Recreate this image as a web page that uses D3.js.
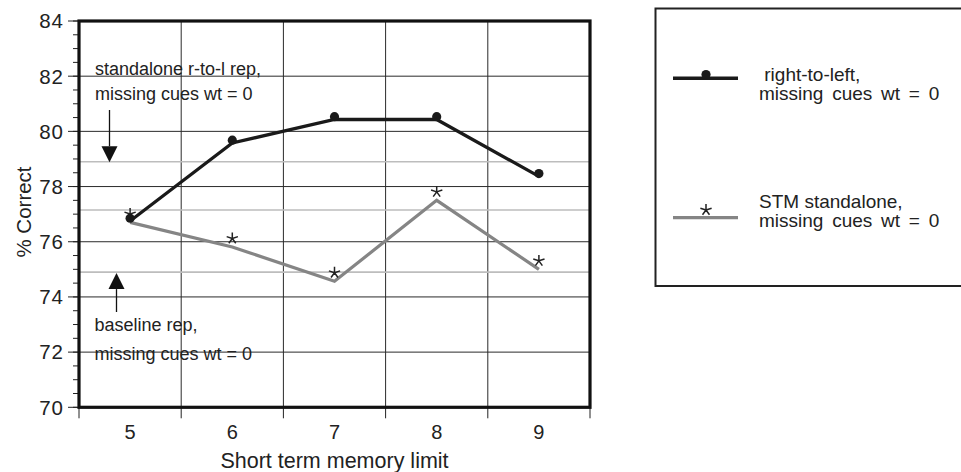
<!DOCTYPE html>
<html>
<head>
<meta charset="utf-8">
<script src="https://cdn.jsdelivr.net/npm/d3@7"></script>
<style>
  body { margin: 0; background: #fff; }
  svg { display: block; font-family: "Liberation Sans", Arial, Helvetica, sans-serif; }
  text { fill: #222; }
</style>
</head>
<body>
<div id="chart"></div>
<script>
// data
const memoryLimits = [5, 6, 7, 8, 9];
const rightToLeft = [76.75, 79.58, 80.43, 80.43, 78.37];
const stmStandalone = [76.7, 75.81, 74.57, 77.5, 75.0];
const referenceLines = [78.9, 77.15, 74.9];
const yTicks = [70, 72, 74, 76, 78, 80, 82, 84];
const topNote = ["standalone r-to-l rep,", "missing cues wt = 0"];
const bottomNote = ["baseline rep,", "missing cues wt = 0"];
const legendLabels = [
  [" right-to-left,", "missing cues wt = 0"],
  ["STM standalone,", "missing cues wt = 0"]
];

const width = 961, height = 472;
const box = { left: 79, right: 590, top: 21, bottom: 407.3 };

const svg = d3.select("#chart").append("svg")
  .attr("width", width)
  .attr("height", height);

const x = d3.scaleBand().domain(memoryLimits).range([box.left, box.right]).padding(0);
const y = d3.scaleLinear().domain([70, 84]).range([box.bottom, box.top]);
const cx = (d) => x(d) + x.bandwidth() / 2;

// five-armed asterisk like the text glyph
const asterisk5 = {
  draw(context, size) {
    const r = Math.sqrt(size) / 2;
    for (let k = 0; k < 5; k++) {
      const a = (k * 72 * Math.PI) / 180;
      context.moveTo(0, 0);
      context.lineTo(r * Math.sin(a), -r * Math.cos(a));
    }
  }
};
const starPath = d3.symbol(asterisk5, 140)();

// gridlines
const grid = svg.append("g");
grid.selectAll("line.h")
  .data(yTicks.filter((t) => t > 70 && t < 84))
  .join("line")
  .attr("x1", box.left).attr("x2", box.right)
  .attr("y1", (d) => y(d)).attr("y2", (d) => y(d))
  .style("stroke", "#2a2a2a").style("stroke-width", 1);

grid.selectAll("line.v")
  .data(memoryLimits.slice(1))
  .join("line")
  .attr("x1", (d) => x(d)).attr("x2", (d) => x(d))
  .attr("y1", box.top).attr("y2", box.bottom)
  .style("stroke", "#2a2a2a").style("stroke-width", 1);

// reference lines (light grey)
svg.append("g").selectAll("line")
  .data(referenceLines)
  .join("line")
  .attr("x1", box.left).attr("x2", box.right)
  .attr("y1", (d) => y(d)).attr("y2", (d) => y(d))
  .style("stroke", "#bdbdbd").style("stroke-width", 1.6);

// y axis: major + minor ticks
const yAxis = svg.append("g").attr("transform", `translate(${box.left},0)`);
yAxis.selectAll("line.minor")
  .data(d3.range(70, 84.01, 0.5))
  .join("line")
  .attr("x1", -6).attr("x2", 0)
  .attr("y1", (d) => y(d)).attr("y2", (d) => y(d))
  .style("stroke", "#222").style("stroke-width", 1);
yAxis.selectAll("line.major")
  .data(yTicks)
  .join("line")
  .attr("x1", -11).attr("x2", 0)
  .attr("y1", (d) => y(d)).attr("y2", (d) => y(d))
  .style("stroke", "#222").style("stroke-width", 1);
yAxis.selectAll("text")
  .data(yTicks)
  .join("text")
  .attr("x", -15)
  .attr("y", (d) => y(d))
  .attr("dy", "0.36em")
  .attr("text-anchor", "end")
  .style("font-size", "20.5px")
  .style("letter-spacing", "1px")
  .text((d) => d);

// x axis: ticks on band edges, labels centred
const xAxis = svg.append("g").attr("transform", `translate(0,${box.bottom})`);
xAxis.selectAll("line")
  .data(memoryLimits.map((d) => x(d)).concat([box.right]))
  .join("line")
  .attr("x1", (d) => d).attr("x2", (d) => d)
  .attr("y1", 0).attr("y2", 11)
  .style("stroke", "#222").style("stroke-width", 1);
xAxis.selectAll("text")
  .data(memoryLimits)
  .join("text")
  .attr("x", cx)
  .attr("y", 32)
  .attr("text-anchor", "middle")
  .style("font-size", "20px")
  .text((d) => d);

// axis titles
svg.append("text")
  .attr("x", (box.left + box.right) / 2)
  .attr("y", 467.5)
  .attr("text-anchor", "middle")
  .style("font-size", "21.5px")
  .text("Short term memory limit");

svg.append("text")
  .attr("transform", `translate(31,212) rotate(-90)`)
  .attr("text-anchor", "middle")
  .style("font-size", "20.5px")
  .text("% Correct");

// frame
svg.append("rect")
  .attr("x", box.left).attr("y", box.top)
  .attr("width", box.right - box.left)
  .attr("height", box.bottom - box.top)
  .style("fill", "none")
  .style("stroke", "#111")
  .style("stroke-width", 3.2);

// series lines
const line = d3.line().x((d, i) => cx(memoryLimits[i])).y((d) => y(d));

svg.append("path")
  .datum(stmStandalone)
  .attr("d", line)
  .style("fill", "none")
  .style("stroke", "#858585")
  .style("stroke-width", 3.2)
  .style("stroke-linejoin", "miter");

svg.append("g").selectAll("path")
  .data(stmStandalone)
  .join("path")
  .attr("d", starPath)
  .attr("transform", (d, i) => `translate(${cx(memoryLimits[i])},${y(d) - 8.5})`)
  .style("fill", "none")
  .style("stroke", "#222")
  .style("stroke-width", 1.5);

svg.append("path")
  .datum(rightToLeft)
  .attr("d", line)
  .style("fill", "none")
  .style("stroke", "#1a1a1a")
  .style("stroke-width", 3.3)
  .style("stroke-linejoin", "miter");

svg.append("g").selectAll("circle")
  .data(rightToLeft)
  .join("circle")
  .attr("cx", (d, i) => cx(memoryLimits[i]))
  .attr("cy", (d) => y(d) - 2.8)
  .attr("r", 4.6)
  .style("fill", "#1a1a1a");

// annotations with arrows
function note(lines, x0, y0, gap) {
  svg.append("g").selectAll("text")
    .data(lines)
    .join("text")
    .attr("x", x0)
    .attr("y", (d, i) => y0 + i * gap)
    .style("font-size", "18px")
    .text((d) => d);
}
note(topNote, 95, 74.5, 25.5);
note(bottomNote, 94.5, 331, 29);

function arrow(ax, fromY, tipY) {
  const dir = tipY > fromY ? 1 : -1;
  const headLen = 16, headHalf = 8;
  svg.append("line")
    .attr("x1", ax).attr("x2", ax)
    .attr("y1", fromY).attr("y2", tipY - dir * headLen)
    .style("stroke", "#111").style("stroke-width", 1.3);
  svg.append("path")
    .attr("d", `M${ax},${tipY} L${ax - headHalf},${tipY - dir * headLen} L${ax + headHalf},${tipY - dir * headLen} Z`)
    .style("fill", "#111");
}
arrow(109.5, 110, y(referenceLines[0]) + 0.5);
arrow(116.5, 312, y(referenceLines[2]) + 1);

// legend
const legend = svg.append("g");
legend.append("rect")
  .attr("x", 655.5).attr("y", 8.5)
  .attr("width", 320).attr("height", 277.5)
  .style("fill", "none")
  .style("stroke", "#222")
  .style("stroke-width", 2);

legend.append("line")
  .attr("x1", 673).attr("x2", 738)
  .attr("y1", 78.3).attr("y2", 78.3)
  .style("stroke", "#1a1a1a").style("stroke-width", 3.5);
legend.append("circle")
  .attr("cx", 706).attr("cy", 74.5).attr("r", 4.6)
  .style("fill", "#1a1a1a");

legend.append("line")
  .attr("x1", 673).attr("x2", 738)
  .attr("y1", 217.7).attr("y2", 217.7)
  .style("stroke", "#858585").style("stroke-width", 3.2);
legend.append("path")
  .attr("d", starPath)
  .attr("transform", "translate(706,210)")
  .style("fill", "none")
  .style("stroke", "#222")
  .style("stroke-width", 1.5);

const legendY = [[80.5, 99.5], [208, 227]];
legendLabels.forEach((pair, k) => {
  legend.append("g").selectAll("text")
    .data(pair)
    .join("text")
    .attr("x", 759)
    .attr("y", (d, i) => legendY[k][i])
    .style("font-size", "19px")
    .style("word-spacing", (d, i) => (i === 1 ? "3.5px" : "0px"))
    .style("white-space", "pre")
    .text((d) => d);
});
</script>
</body>
</html>
